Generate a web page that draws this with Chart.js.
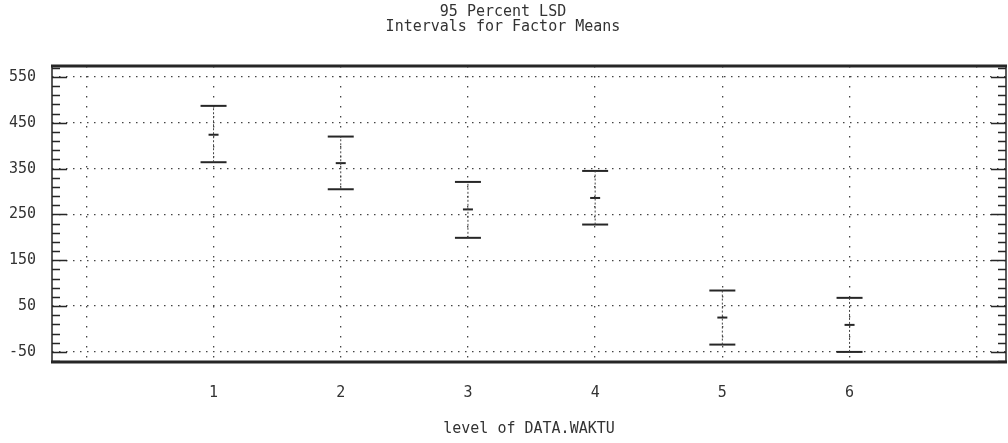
<!DOCTYPE html>
<html>
<head>
<meta charset="utf-8">
<script src="https://cdn.jsdelivr.net/npm/chart.js@4/dist/chart.umd.min.js"></script>
<style>
  html, body { margin: 0; padding: 0; background: #fff; }
  #wrap { width: 1008px; height: 443px; }
</style>
</head>
<body>
<div id="wrap"><canvas id="c" width="1008" height="443"></canvas></div>
<script>
const titleLines = ["95 Percent LSD", "Intervals for Factor Means"];
const xTitle = "level of DATA.WAKTU";
const levels = [1, 2, 3, 4, 5, 6];
const means = [424, 362, 261, 286, 25, 9];
const upper = [487, 420, 321, 345, 84, 68];
const lower = [364, 305, 199, 228, -34, -50];
const yTicks = [-50, 50, 150, 250, 350, 450, 550];

const INK = "#262626";
const FONT = "'DejaVu Sans Mono', monospace";

const whiskers = [];
levels.forEach((x, i) => {
  whiskers.push({ x, y: lower[i] }, { x, y: upper[i] }, { x, y: null });
});
const caps = levels.flatMap((x, i) => [{ x, y: upper[i] }, { x, y: lower[i] }]);
const meanPts = levels.map((x, i) => ({ x, y: means[i] }));

// frame and inward minor ticks, like the old plotter output
const frame = {
  id: "frame",
  afterDraw(chart) {
    const { ctx, chartArea: a, scales } = chart;
    ctx.save();
    ctx.strokeStyle = INK;
    ctx.lineWidth = 1.5;
    for (let v = -70; v <= 574; v += 20) {
      const y = Math.round(scales.y.getPixelForValue(v)) + 0.5;
      const len = yTicks.includes(v) ? 15 : 8;
      ctx.beginPath();
      ctx.moveTo(a.left, y); ctx.lineTo(a.left + len, y);
      ctx.moveTo(a.right, y); ctx.lineTo(a.right - len, y);
      ctx.stroke();
    }
    ctx.beginPath();
    ctx.moveTo(a.left, a.top); ctx.lineTo(a.left, a.bottom);
    ctx.moveTo(a.right, a.top); ctx.lineTo(a.right, a.bottom);
    ctx.stroke();
    ctx.lineWidth = 3;
    ctx.beginPath();
    ctx.moveTo(a.left - 1, a.top); ctx.lineTo(a.right + 1, a.top);
    ctx.moveTo(a.left - 1, a.bottom); ctx.lineTo(a.right + 1, a.bottom);
    ctx.stroke();
    ctx.restore();
  }
};

new Chart(document.getElementById("c"), {
  type: "scatter",
  data: {
    datasets: [
      {
        type: "line",
        data: whiskers,
        borderColor: "#444",
        borderWidth: 1,
        borderDash: [2, 2],
        pointRadius: 0,
        spanGaps: false,
      },
      {
        data: caps,
        pointStyle: "line",
        pointRadius: 13,
        borderColor: INK,
        borderWidth: 2,
      },
      {
        data: meanPts,
        pointStyle: "line",
        pointRadius: 5,
        borderColor: INK,
        borderWidth: 2,
      },
    ],
  },
  options: {
    responsive: false,
    animation: false,
    layout: { autoPadding: false, padding: { left: 0, right: 2, top: 0, bottom: 0 } },
    plugins: {
      legend: { display: false },
      tooltip: { enabled: false },
      title: {
        display: true,
        text: titleLines,
        color: "#333",
        font: { family: FONT, size: 15, weight: "normal", lineHeight: 1.0 },
        padding: { top: 5, bottom: 31 },
      },
    },
    scales: {
      x: {
        type: "linear",
        min: -0.27,
        max: 7.23,
        afterFit(s) { s.height = 81; s.paddingLeft = 0; s.paddingRight = 0; },
        ticks: {
          stepSize: 1,
          includeBounds: false,
          color: "#333",
          padding: 22,
          font: { family: FONT, size: 15 },
          callback: (v) => (v >= 1 && v <= 6 ? String(v) : ""),
        },
        grid: { color: "#444", lineWidth: 1.3, drawTicks: false },
        border: { display: false, dash: [1.5, 8.5] },
        title: {
          display: true,
          text: xTitle,
          color: "#333",
          font: { family: FONT, size: 15 },
          padding: { top: 3, bottom: 5 },
        },
      },
      y: {
        min: -72,
        max: 574,
        afterFit(s) { s.width = 52; },
        afterBuildTicks(s) { s.ticks = yTicks.map((v) => ({ value: v })); },
        ticks: {
          color: "#333",
          padding: 16,
          font: { family: FONT, size: 15 },
        },
        grid: { color: "#444", lineWidth: 1.3, drawTicks: false },
        border: { display: false, dash: [1.5, 5.5] },
      },
    },
  },
  plugins: [frame],
});
</script>
</body>
</html>
